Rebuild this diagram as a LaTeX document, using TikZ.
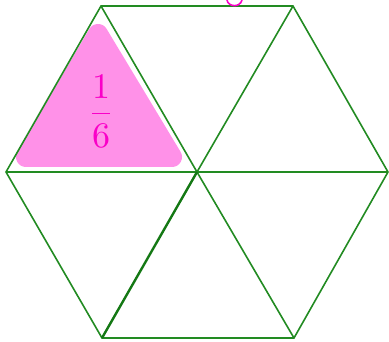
\documentclass[tikz,border=0pt]{standalone}
\begin{document}
\begin{tikzpicture}[x=1pt,y=-1pt,
  edge/.style={draw={rgb,255:red,34;green,139;blue,34},line width=1.6pt},
  thickedge/.style={draw={rgb,255:red,20;green,120;blue,20},line width=2.4pt},
  blob/.style={fill={rgb,255:red,255;green,145;blue,232},draw={rgb,255:red,255;green,145;blue,232},line width=20pt,line join=round},
  ink/.style={text={rgb,255:red,250;green,0;blue,200}}]
\useasboundingbox (0,0) rectangle (389,342);
% pink shaded sixth
\path[blob] (98,34) -- (26,157) -- (172,157) -- cycle;
% hexagon vertices
\coordinate (A) at (101,6);
\coordinate (B) at (293,6);
\coordinate (C) at (388,172);
\coordinate (D) at (294,338);
\coordinate (E) at (102,338);
\coordinate (F) at (6,172);
\coordinate (O) at (197,172);
\draw[edge] (A) -- (B) -- (C) -- (D) -- (E) -- (F) -- cycle;
\draw[edge] (F) -- (C);
\draw[edge] (A) -- (O) -- (D);
\draw[edge] (B) -- (O);
\draw[thickedge] (E) -- (O);
% label
\node[ink,scale=3.6] (lab) at (101,111) {$\displaystyle\frac{1}{6}$};
% partial cut-off mark at top
\draw[draw={rgb,255:red,250;green,0;blue,200},line width=1.6pt,line cap=round] (227,0) .. controls (228,7) and (240,8) .. (242,0);
\end{tikzpicture}
\end{document}
